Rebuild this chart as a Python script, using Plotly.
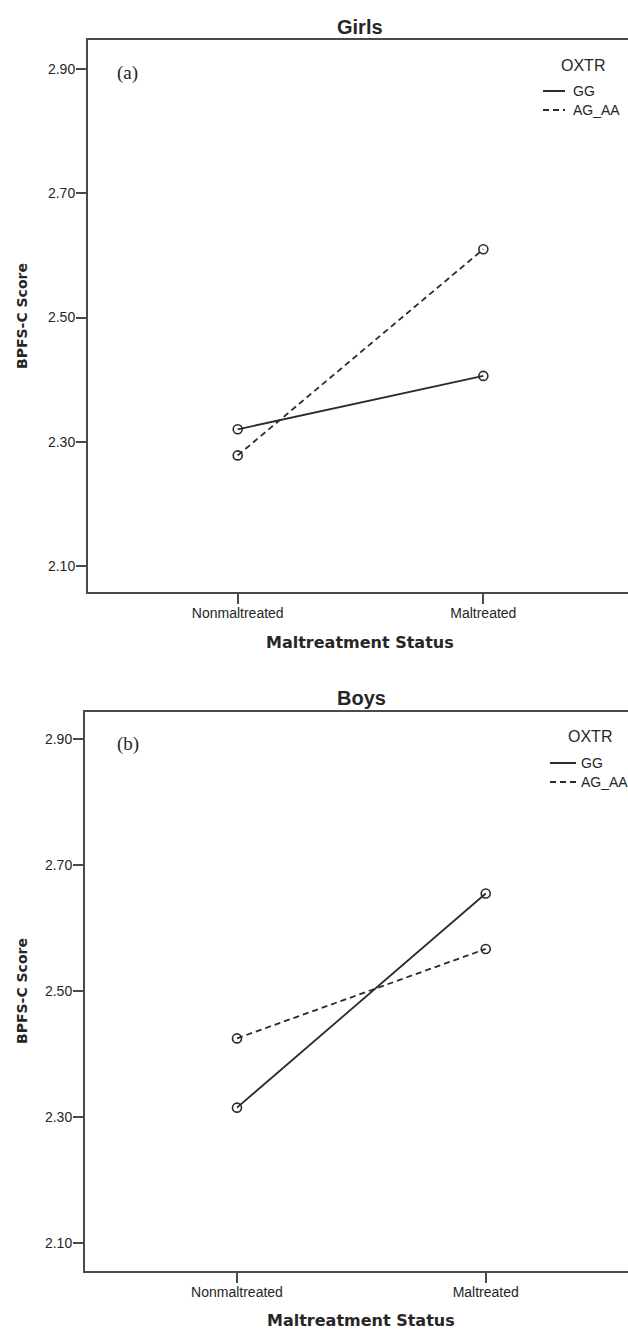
import plotly.graph_objects as go

W, H = 628, 1330

# ---- data ----
categories = ["Nonmaltreated", "Maltreated"]
series_names = ["GG", "AG_AA"]
girls_gg = [2.320, 2.406]
girls_ag_aa = [2.278, 2.610]
boys_gg = [2.315, 2.655]
boys_ag_aa = [2.425, 2.567]
y_ticks = [2.10, 2.30, 2.50, 2.70, 2.90]
panel_titles = ["Girls", "Boys"]
panel_tags = ["(a)", "(b)"]
legend_title = "OXTR"
x_title = "Maltreatment Status"
y_title = "BPFS-C Score"


def px_x(p):
    return p / W


def px_y(p):
    return 1 - p / H


LINE_COL = "#2b2b2b"
AXIS_COL = "#4a4a4a"
TXT_COL = "#262626"

fig = go.Figure()

panels = [
    dict(gg=girls_gg, ag=girls_ag_aa, xa="x", ya="y", top=40, bottom=592, left=88,
         xrange=[-0.6095, 1.589], yrange=[2.058, 2.947]),
    dict(gg=boys_gg, ag=boys_ag_aa, xa="x2", ya="y2", top=712, bottom=1271, left=85,
         xrange=[-0.611, 1.572], yrange=[2.0556, 2.9433]),
]

for p in panels:
    fig.add_trace(go.Scatter(
        x=categories, y=p["gg"], mode="lines+markers", name=series_names[0],
        xaxis=p["xa"], yaxis=p["ya"], showlegend=False,
        line=dict(color=LINE_COL, width=1.8),
        marker=dict(symbol="circle-open", size=9, color=LINE_COL, line=dict(width=1.6)),
    ))
    fig.add_trace(go.Scatter(
        x=categories, y=p["ag"], mode="lines+markers", name=series_names[1],
        xaxis=p["xa"], yaxis=p["ya"], showlegend=False,
        line=dict(color=LINE_COL, width=1.8, dash="6px,4px"),
        marker=dict(symbol="circle-open", size=9, color=LINE_COL, line=dict(width=1.6)),
    ))

axis_common = dict(
    showline=True, linecolor=AXIS_COL, linewidth=2, showgrid=False, zeroline=False,
    ticks="outside", ticklen=10, tickwidth=2, tickcolor=AXIS_COL,
    tickfont=dict(family="Liberation Sans, Arial, sans-serif", size=14, color=TXT_COL),
    fixedrange=True,
)

layout = dict(
    width=W, height=H,
    margin=dict(l=0, r=0, t=0, b=0),
    paper_bgcolor="white", plot_bgcolor="white",
    showlegend=False,
)

for i, p in enumerate(panels):
    suffix = "" if i == 0 else "2"
    layout["xaxis" + suffix] = dict(
        axis_common, type="category", range=p["xrange"],
        domain=[px_x(p["left"]), 1.0], anchor="y" + suffix, mirror=True,
        ticklabelstandoff=-3,
    )
    layout["yaxis" + suffix] = dict(
        axis_common, range=p["yrange"], tickvals=y_ticks, tickformat=".2f",
        domain=[px_y(p["bottom"]), px_y(p["top"])], anchor="x" + suffix, mirror=False,
        ticklabelstandoff=-2,
    )

fig.update_layout(**layout)

ann = []
shapes = []
title_font = dict(family="Liberation Sans, Arial, sans-serif", size=20, color=TXT_COL)
axis_title_font_x = dict(family="DejaVu Sans, sans-serif", size=16, color=TXT_COL)
axis_title_font_y = dict(family="DejaVu Sans, sans-serif", size=14, color=TXT_COL)
tag_font = dict(family="Liberation Serif, Times New Roman, serif", size=19, color=TXT_COL)
leg_title_font = dict(family="Liberation Sans, Arial, sans-serif", size=16, color=TXT_COL)
leg_font = dict(family="Liberation Sans, Arial, sans-serif", size=14, color=TXT_COL)

geo = [
    dict(title_y=27, center_x=360, ytitle_y=316, xtitle_y=642, tag=(127, 73),
         leg_title=(583, 65), leg_line=(543, 565), leg_text_x=571, leg_rows=(91, 110)),
    dict(title_y=698, center_x=361, ytitle_y=991, xtitle_y=1320, tag=(128, 744),
         leg_title=(590, 736), leg_line=(550, 576), leg_text_x=579, leg_rows=(763, 782)),
]

for i, g in enumerate(geo):
    ann.append(dict(text="<b>%s</b>" % panel_titles[i], x=px_x(g["center_x"]), y=px_y(g["title_y"]),
                    xref="paper", yref="paper", showarrow=False, font=title_font,
                    xanchor="center", yanchor="middle"))
    ann.append(dict(text="<b>%s</b>" % x_title, x=px_x(g["center_x"]), y=px_y(g["xtitle_y"]),
                    xref="paper", yref="paper", showarrow=False, font=axis_title_font_x,
                    xanchor="center", yanchor="middle"))
    ann.append(dict(text="<b>%s</b>" % y_title, x=px_x(22), y=px_y(g["ytitle_y"]),
                    xref="paper", yref="paper", showarrow=False, font=axis_title_font_y,
                    textangle=-90, xanchor="center", yanchor="middle"))
    ann.append(dict(text=panel_tags[i], x=px_x(g["tag"][0]), y=px_y(g["tag"][1]),
                    xref="paper", yref="paper", showarrow=False, font=tag_font,
                    xanchor="center", yanchor="middle"))
    ann.append(dict(text=legend_title, x=px_x(g["leg_title"][0]), y=px_y(g["leg_title"][1]),
                    xref="paper", yref="paper", showarrow=False, font=leg_title_font,
                    xanchor="center", yanchor="middle"))
    for j, name in enumerate(series_names):
        ry = g["leg_rows"][j]
        ann.append(dict(text=name, x=px_x(g["leg_text_x"]), y=px_y(ry),
                        xref="paper", yref="paper", showarrow=False, font=leg_font,
                        xanchor="left", yanchor="middle"))
        shapes.append(dict(type="line", xref="paper", yref="paper",
                           x0=px_x(g["leg_line"][0]), x1=px_x(g["leg_line"][1]),
                           y0=px_y(ry), y1=px_y(ry),
                           line=dict(color=LINE_COL, width=2,
                                     dash="solid" if j == 0 else "6px,4px")))

fig.update_layout(annotations=ann, shapes=shapes)
fig.write_html(
    "out.html",
    config={"displayModeBar": False},
    post_script="document.body.style.margin='0';document.body.style.overflow='hidden';",
)
